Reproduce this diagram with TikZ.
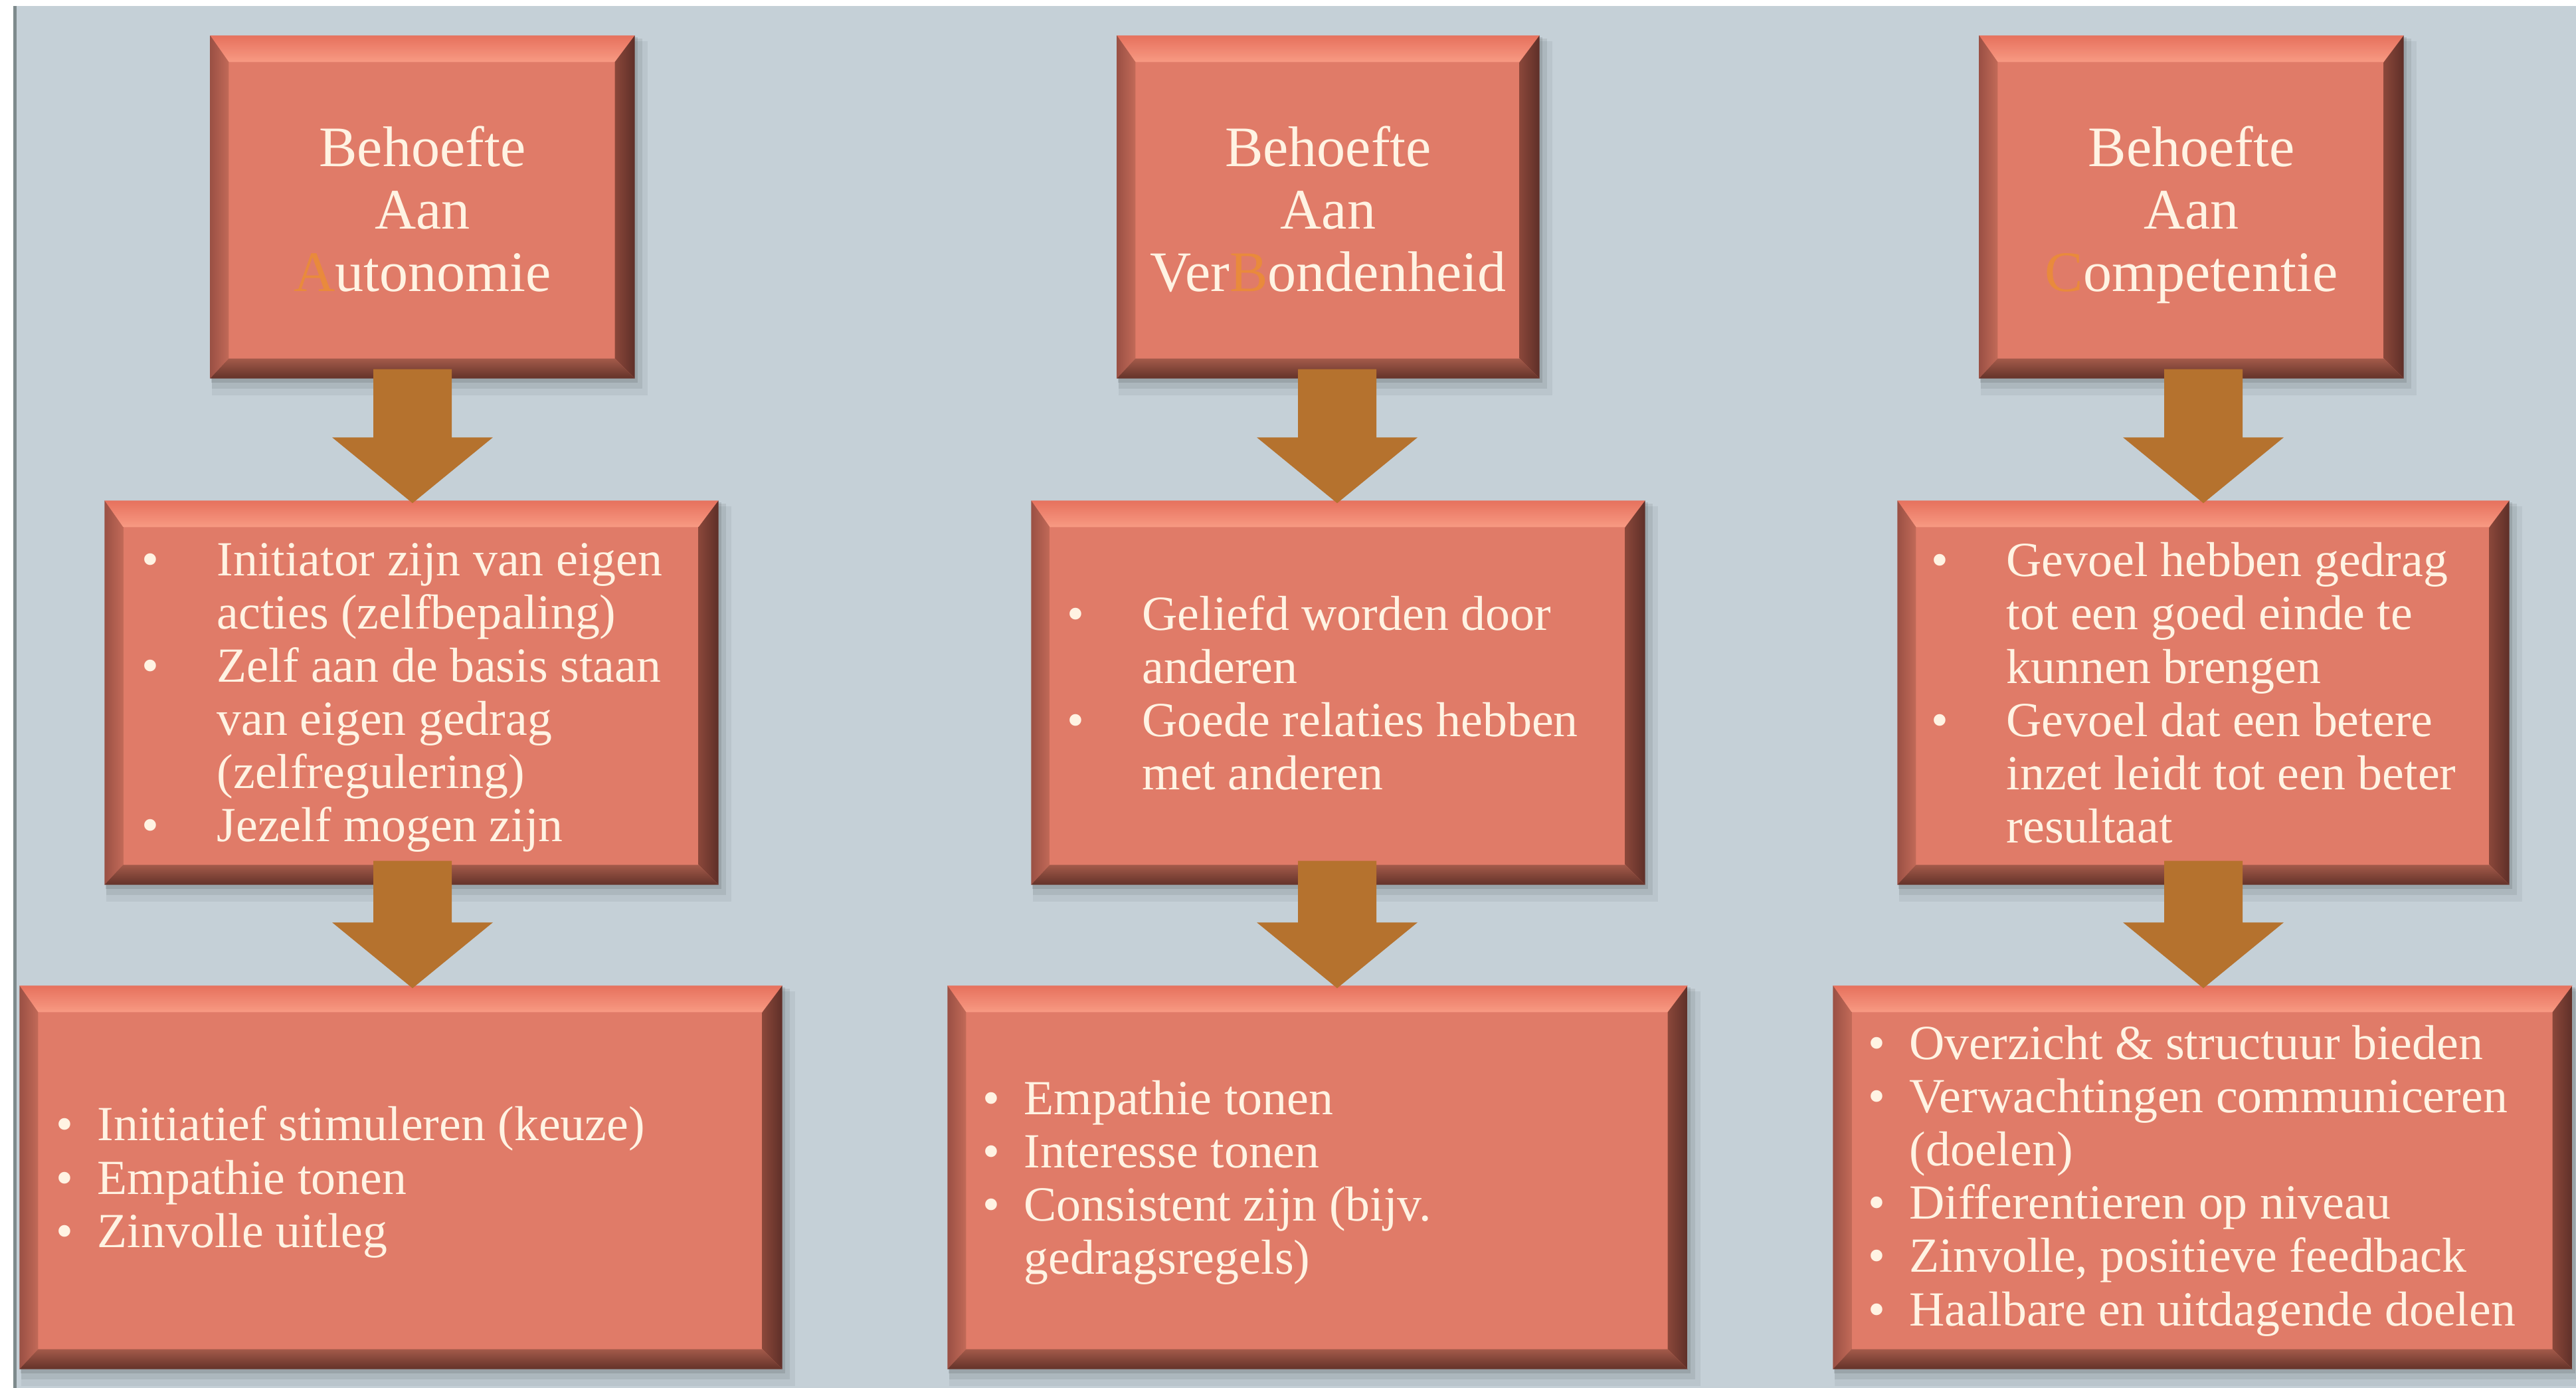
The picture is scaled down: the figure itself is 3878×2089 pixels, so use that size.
\documentclass[tikz,border=0pt]{standalone}
\usepackage{fontspec}
\setmainfont{Liberation Serif}
\usetikzlibrary{calc}
\definecolor{bg}{HTML}{C5D0D7}
\definecolor{face}{HTML}{E07B68}
\definecolor{bevTa}{HTML}{E6715D}
\definecolor{bevTb}{HTML}{F89A83}
\definecolor{bevLa}{HTML}{9A5044}
\definecolor{bevLb}{HTML}{C26A58}
\definecolor{bevRa}{HTML}{8A473A}
\definecolor{bevRb}{HTML}{5E2F28}
\definecolor{bevBa}{HTML}{A35A4A}
\definecolor{bevBb}{HTML}{633229}
\definecolor{arrowc}{HTML}{B5722E}
\definecolor{txt}{HTML}{FFF3E3}
\definecolor{accent}{HTML}{E98A3C}
\definecolor{edgeline}{HTML}{7E8A8C}

\newcommand\bevbox[5]{%
  \fill[black,opacity=.05] (#2+2,#3+8) rectangle (#4+20,#5+26);
  \fill[black,opacity=.07] (#2+2,#3+4) rectangle (#4+12,#5+16);
  \fill[black,opacity=.10] (#2+1,#3+2) rectangle (#4+5,#5+7);
  \node[boxface, minimum width={(#4-#2)*0.01cm}, minimum height={(#5-#3)*0.01cm}] (#1) at ({(#2+#4)/2},{(#3+#5)/2}) {};
  \shade[top color=bevTa, bottom color=bevTb] (#1.north west) -- (#1.north east) -- ($(#1.north east)+(-30,40)$) -- ($(#1.north west)+(28,40)$) -- cycle;
  \shade[left color=bevLa, right color=bevLb] (#1.north west) -- ($(#1.north west)+(28,40)$) -- ($(#1.south west)+(28,-30)$) -- (#1.south west) -- cycle;
  \shade[left color=bevRa, right color=bevRb] (#1.north east) -- (#1.south east) -- ($(#1.south east)+(-30,-30)$) -- ($(#1.north east)+(-30,40)$) -- cycle;
  \shade[top color=bevBa, bottom color=bevBb] (#1.south west) -- ($(#1.south west)+(28,-30)$) -- ($(#1.south east)+(-30,-30)$) -- (#1.south east) -- cycle;
}

\newcommand\blockarrow[4]{%
  \coordinate (ac) at (#1,0);
  \coordinate (as) at ($(ac |- #2.south)+(0,-#4)$);
  \coordinate (at) at ($(ac |- #3.north)+(0,4)$);
  \fill[arrowc] ($(as)+(-59,0)$) -- ($(as)+(59,0)$) -- ($(at)+(59,-99)$) -- ($(at)+(121,-99)$) -- (at) -- ($(at)+(-121,-99)$) -- ($(at)+(-59,-99)$) -- cycle;
}

\newcommand\bulm{\llap{\makebox[1.13cm][l]{\textbullet}}}
\newcommand\bulb{\llap{\makebox[0.62cm][l]{\textbullet}}}

\begin{document}
\begin{tikzpicture}[x=0.01cm,y=-0.01cm,
  boxface/.style={rectangle, fill=face, inner sep=0pt, draw=none},
  title/.style={text=txt, align=center, font=\fontsize{24.5}{26.8}\selectfont, inner sep=0pt},
  body/.style={text=txt, align=left, font=\fontsize{21}{22.8}\selectfont, inner sep=0pt, anchor=west}]
\useasboundingbox (0,0) rectangle (3878,2089);
\fill[white] (0,0) rectangle (3878,2089);
\fill[bg] (23,9) rectangle (3878,2089);
\fill[edgeline] (20,9) rectangle (25,2089);

\bevbox{tA}{317}{54}{955}{569}
\bevbox{tB}{1682}{54}{2317}{569}
\bevbox{tC}{2980}{54}{3618}{569}
\bevbox{mA}{158}{754}{1081}{1331}
\bevbox{mB}{1553}{754}{2476}{1331}
\bevbox{mC}{2857}{754}{3777}{1331}
\bevbox{bA}{30}{1484}{1177}{2060}
\bevbox{bB}{1427}{1484}{2540}{2060}
\bevbox{bC}{2760}{1484}{3872}{2060}

\blockarrow{621}{tA}{mA}{14}
\blockarrow{2013}{tB}{mB}{14}
\blockarrow{3317}{tC}{mC}{14}
\blockarrow{621}{mA}{bA}{36}
\blockarrow{2013}{mB}{bB}{36}
\blockarrow{3317}{mC}{bC}{36}

\node[title] (ttA) at ($(tA.center)+(0,12)$) {Behoefte\\Aan\\{\color{accent}A}utonomie\vphantom{p}};
\node[title] (ttB) at ($(tB.center)+(0,12)$) {Behoefte\\Aan\\Ver{\color{accent}B}ondenheid\vphantom{p}};
\node[title] (ttC) at ($(tC.center)+(0,12)$) {Behoefte\\Aan\\{\color{accent}C}ompetentie\vphantom{p}};

\node[body] (txA) at (326,1050) {\bulm Initiator zijn van eigen\\acties (zelfbepaling)\\\bulm Zelf aan de basis staan\\van eigen gedrag\\(zelfregulering)\\\bulm Jezelf mogen zijn};
\node[body] (txB) at (1719,1043) {\bulm Geliefd worden door\\anderen\\\bulm Goede relaties hebben\\met anderen};
\node[body] (txC) at (3020,1043) {\bulm Gevoel hebben gedrag\\tot een goed einde te\\kunnen brengen\\\bulm Gevoel dat een betere\\inzet leidt tot een beter\\resultaat};

\node[body] (bxA) at (146,1779) {\bulb Initiatief stimuleren (keuze)\\\bulb Empathie tonen\\\bulb Zinvolle uitleg};
\node[body] (bxB) at (1541,1780) {\bulb Empathie tonen\\\bulb Interesse tonen\\\bulb Consistent zijn (bijv.\\gedragsregels)};
\node[body] (bxC) at (2874,1777) {\bulb Overzicht \& structuur bieden\\\bulb Verwachtingen communiceren\\(doelen)\\\bulb Differentieren op niveau\\\bulb Zinvolle, positieve feedback\\\bulb Haalbare en uitdagende doelen};
\end{tikzpicture}
\end{document}
